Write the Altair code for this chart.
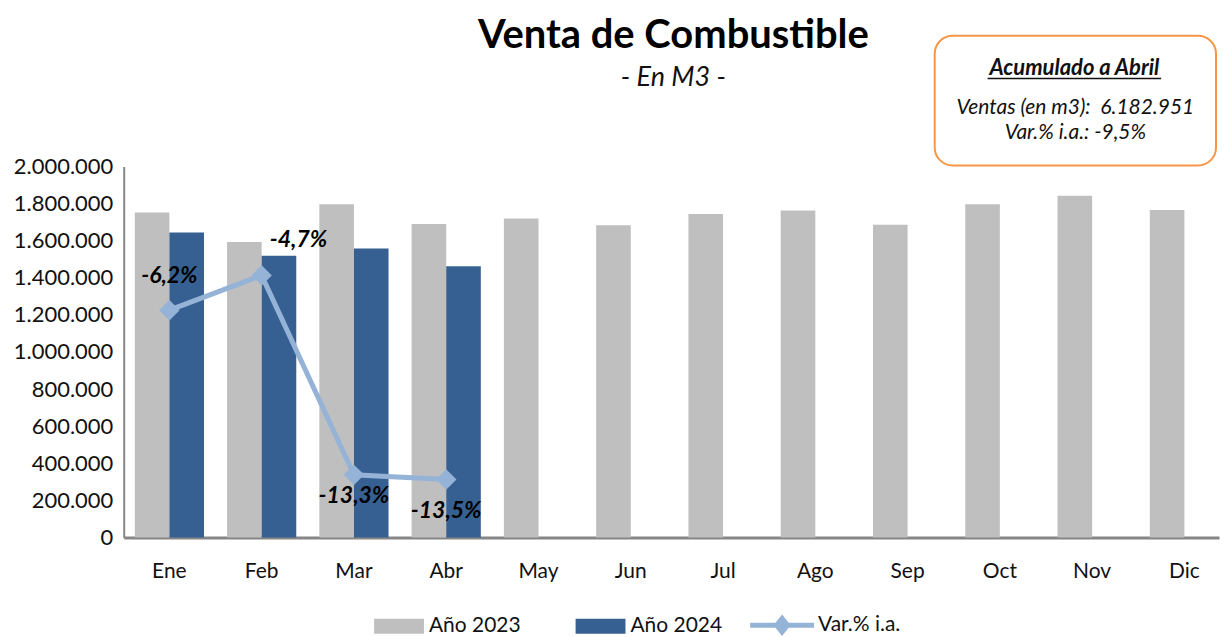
import altair as alt
import pandas as pd

meses = ["Ene", "Feb", "Mar", "Abr", "May", "Jun", "Jul", "Ago", "Sep", "Oct", "Nov", "Dic"]
ventas_2023 = [1752000, 1593000, 1796000, 1690000, 1719000, 1683000,
               1744000, 1762000, 1686000, 1796000, 1842000, 1765000]
ventas_2024 = [1644000, 1518000, 1557000, 1462000]
var_ia = [-6.2, -4.7, -13.3, -13.5]
var_labels = ["-6,2%", "-4,7%", "-13,3%", "-13,5%"]
series_bars = ["Año 2023", "Año 2024"]
series_line = ["Var.% i.a."]
colors_bars = ["#BFBFBF", "#376092"]
colors_line = ["#95B3D7"]

titulo = "Venta de Combustible"
subtitulo = "- En M3 -"
caja_titulo = "Acumulado a Abril"
caja_l1 = "Ventas (en m3):\u00a0 6.182.951"
caja_l2 = "Var.% i.a.: -9,5%"

FONT = "Lato"

bars_df = pd.DataFrame(
    [{"mes": m, "serie": series_bars[0], "valor": v} for m, v in zip(meses, ventas_2023)]
    + [{"mes": m, "serie": series_bars[1], "valor": v} for m, v in zip(meses, ventas_2024)]
)
line_df = pd.DataFrame({
    "mes": meses[:4],
    "var": var_ia,
    "label": var_labels,
    "serie": series_line[0],
})

x_enc = alt.X(
    "mes:N", sort=meses, title=None,
    scale=alt.Scale(paddingInner=0.25, paddingOuter=0.06, align=1),
    axis=alt.Axis(labelAngle=0, ticks=False, labelFontSize=21, labelFont=FONT,
                  labelColor="#111111", labelPadding=23, domainColor="#868686",
                  domainWidth=3),
)

rect_path = "M-1,-0.3L1,-0.3L1,0.3L-1,0.3Z"
line_path = "M-1,-0.08L1,-0.08L1,0.08L-1,0.08Z M0,-0.34L0.27,0L0,0.34L-0.27,0Z"

bars = alt.Chart(bars_df).mark_bar().encode(
    x=x_enc,
    xOffset=alt.XOffset("serie:N", sort=series_bars, scale=alt.Scale(domain=series_bars)),
    y=alt.Y(
        "valor:Q", title=None,
        scale=alt.Scale(domain=[0, 2000000], nice=False),
        axis=alt.Axis(values=list(range(0, 2000001, 200000)), grid=False, ticks=False,
                      labelFontSize=22, labelFont=FONT, labelColor="#111111",
                      labelPadding=11, domainColor="#868686", domainWidth=2,
                      labelExpr="join(split(format(datum.value, ','), ','), '.')"),
    ),
    color=alt.Color(
        "serie:N",
        scale=alt.Scale(domain=series_bars, range=colors_bars),
        legend=alt.Legend(
            title=None, orient="none", direction="horizontal", legendX=251, legendY=436,
            symbolType=rect_path, symbolSize=2500, symbolStrokeWidth=0,
            labelFontSize=21, labelFont=FONT, labelColor="#111111", labelOffset=5,
            columnPadding=55, padding=0,
        ),
    ),
)

y_var = alt.Y("var:Q", scale=alt.Scale(domain=[-16, 0], nice=False), axis=None)

line = alt.Chart(line_df).mark_line(color="#95B3D7", strokeWidth=5).encode(
    x=alt.X("mes:N", sort=meses), y=y_var
)
points = alt.Chart(line_df).mark_point(
    filled=True, shape="diamond", size=420, opacity=1
).encode(
    x=alt.X("mes:N", sort=meses), y=y_var,
    color=alt.Color(
        "serie:N",
        scale=alt.Scale(domain=series_line, range=colors_line),
        legend=alt.Legend(
            title=None, orient="none", direction="horizontal", legendX=628, legendY=428,
            symbolType=line_path, symbolSize=4096, symbolStrokeWidth=0,
            labelFontSize=21, labelFont=FONT, labelColor="#111111", labelOffset=4,
            padding=0,
        ),
    ),
)

offsets = [(0, -34), (37, -35), (0, 21), (0, 32)]
text_layers = []
for m, (dx, dy) in zip(meses[:4], offsets):
    text_layers.append(
        alt.Chart(line_df).transform_filter(alt.datum.mes == m).mark_text(
            dx=dx, dy=dy, fontSize=23, font=FONT, fontWeight="bold",
            fontStyle="italic", color="#000000"
        ).encode(x=alt.X("mes:N", sort=meses), y=y_var, text="label:N")
    )

one = alt.Data(values=[{}])

title_mark = alt.Chart(one).mark_text(
    text=titulo, fontSize=40, font=FONT, fontWeight="bold", color="#000000",
    baseline="middle"
).encode(x=alt.value(551), y=alt.value(-131))
subtitle_mark = alt.Chart(one).mark_text(
    text=subtitulo, fontSize=27, font=FONT, fontStyle="italic", color="#111111",
    baseline="middle"
).encode(x=alt.value(551), y=alt.value(-89))

box = alt.Chart(one).mark_rect(
    fill="white", stroke="#F79646", strokeWidth=2, cornerRadius=18
).encode(x=alt.value(813), x2=alt.value(1095), y=alt.value(-131), y2=alt.value(-1))

box_title = alt.Chart(one).mark_text(
    text=caja_titulo, fontSize=22, font=FONT, fontWeight="bold",
    fontStyle="italic", color="#111111", baseline="middle"
).encode(x=alt.value(953), y=alt.value(-99))
underline = alt.Chart(one).mark_rule(color="#111111", strokeWidth=1.5).encode(
    x=alt.value(866), x2=alt.value(1040), y=alt.value(-88)
)
box_l1 = alt.Chart(one).mark_text(
    text=caja_l1, fontSize=21, font=FONT,
    fontStyle="italic", color="#111111", baseline="middle"
).encode(x=alt.value(954), y=alt.value(-59))
box_l2 = alt.Chart(one).mark_text(
    text=caja_l2, fontSize=21, font=FONT,
    fontStyle="italic", color="#111111", baseline="middle"
).encode(x=alt.value(954), y=alt.value(-33))

chart = alt.layer(
    bars, line, points, *text_layers, title_mark, subtitle_mark,
    box, box_title, underline, box_l1, box_l2
).resolve_scale(y="independent", color="independent").properties(
    width=1098, height=372,
    autosize=alt.AutoSizeParams(type="none"),
    padding={"left": 116, "top": 158, "right": 2, "bottom": 99},
).configure_view(stroke=None)

chart.save("out.html", embed_options={"renderer": "svg", "actions": False})
